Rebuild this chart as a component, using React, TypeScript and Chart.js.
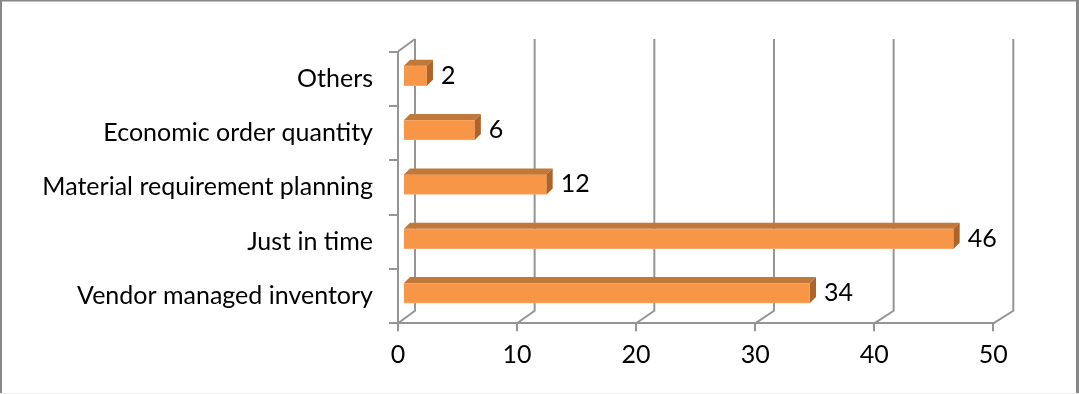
import React, { useEffect, useRef } from "react";
import { Chart, registerables } from "chart.js";
Chart.register(...registerables);

const categories = [
  "Others",
  "Economic order quantity",
  "Material requirement planning",
  "Just in time",
  "Vendor managed inventory",
];
const values = [2, 6, 12, 46, 34];
const xTicks = [0, 10, 20, 30, 40, 50];

const W = 1079;
const H = 394;
const FONT_FAMILY = "Lato, 'Open Sans', sans-serif";
const FONT_SIZE = 25;
const LINE = "#959595";
const DEPTH_Y = -12.5;
const depthX = (v: number) => 17 + v * 0.06;
const BAR_SHIFT_X = 5;
const BAR_SHIFT_Y = -3;
const BAR_SCALE = 1.0054;
const FACE_X = 6;
const FACE_Y = -6;
const LABEL_GAP = 8;

const threeD = {
  id: "threeD",
  beforeDraw(chart: any) {
    const ctx = chart.ctx;
    ctx.save();
    ctx.fillStyle = "#ffffff";
    ctx.fillRect(0, 0, W, H);
    ctx.fillStyle = "#878787";
    ctx.fillRect(0, 0, W, 1.5);
    ctx.fillRect(0, 0, 2, H);
    ctx.fillRect(W - 3, 0, 3, H);
    ctx.fillStyle = "#eeeeee";
    ctx.fillRect(0, H - 1, W, 1);
    ctx.restore();
  },
  beforeDatasetsDraw(chart: any) {
    const ctx = chart.ctx;
    const xs = chart.scales.x;
    const { top, bottom, left } = chart.chartArea;
    ctx.save();
    ctx.strokeStyle = LINE;
    ctx.lineWidth = 2;
    ctx.lineCap = "butt";
    ctx.beginPath();
    ctx.moveTo(left, top);
    ctx.lineTo(left + depthX(0), top + DEPTH_Y);
    for (const v of xTicks) {
      const fx = xs.getPixelForValue(v);
      const bx = fx + depthX(v);
      ctx.moveTo(bx, top + DEPTH_Y);
      ctx.lineTo(bx, bottom + DEPTH_Y);
      ctx.lineTo(fx, bottom);
    }
    ctx.stroke();
    ctx.restore();
    ctx.save();
    ctx.translate(left + BAR_SHIFT_X, BAR_SHIFT_Y);
    ctx.scale(BAR_SCALE, 1);
    ctx.translate(-left, 0);
  },
  afterDatasetsDraw(chart: any) {
    const ctx = chart.ctx;
    const left = chart.chartArea.left;
    const meta = chart.getDatasetMeta(0);
    const ends: { x: number; y: number }[] = [];
    meta.data.forEach((bar: any) => {
      const { x, y, base, height } = bar.getProps(["x", "y", "base", "height"], true);
      const t = y - height / 2;
      const b = y + height / 2;
      ctx.fillStyle = "#C27839";
      ctx.beginPath();
      ctx.moveTo(base, t);
      ctx.lineTo(x, t);
      ctx.lineTo(x + FACE_X, t + FACE_Y);
      ctx.lineTo(base + FACE_X, t + FACE_Y);
      ctx.closePath();
      ctx.fill();
      ctx.fillStyle = "#AB642C";
      ctx.beginPath();
      ctx.moveTo(x, t);
      ctx.lineTo(x + FACE_X, t + FACE_Y);
      ctx.lineTo(x + FACE_X, b + FACE_Y);
      ctx.lineTo(x, b);
      ctx.closePath();
      ctx.fill();
      ends.push({ x: left + BAR_SHIFT_X + (x + FACE_X - left) * BAR_SCALE, y: y + BAR_SHIFT_Y });
    });
    ctx.restore();
    ctx.save();
    ctx.fillStyle = "#000000";
    ctx.font = `${FONT_SIZE}px ${FONT_FAMILY}`;
    ctx.textAlign = "left";
    ctx.textBaseline = "middle";
    ends.forEach((e, i) => ctx.fillText(String(values[i]), e.x + LABEL_GAP, e.y));
    ctx.restore();
  },
};

export default function App() {
  const ref = useRef<HTMLCanvasElement | null>(null);
  useEffect(() => {
    if (!ref.current) return;
    const chart = new Chart(ref.current, {
      type: "bar",
      data: {
        labels: categories,
        datasets: [
          {
            data: values,
            backgroundColor: "#F79646",
            borderColor: "#F9A870",
            borderWidth: 1,
            barThickness: 20,
            clip: false,
          } as any,
        ],
      },
      options: {
        indexAxis: "y",
        animation: false,
        responsive: false,
        devicePixelRatio: 1,
        layout: { padding: { top: 51.5, right: 85.7, left: 0, bottom: 0 } },
        plugins: { legend: { display: false }, tooltip: { enabled: false } },
        scales: {
          x: {
            min: 0,
            max: 50,
            ticks: { stepSize: 10, color: "#000", font: { family: FONT_FAMILY, size: FONT_SIZE }, padding: 9 },
            grid: { drawOnChartArea: false, drawTicks: true, tickLength: 8, color: LINE, lineWidth: 2 },
            border: { display: true, color: LINE, width: 2 },
            afterFit: (s: any) => {
              s.height = H - 323.3;
            },
          },
          y: {
            ticks: { color: "#000", font: { family: FONT_FAMILY, size: FONT_SIZE }, padding: 16 },
            grid: { drawOnChartArea: false, drawTicks: true, tickLength: 9, color: LINE, lineWidth: 2 },
            border: { display: true, color: LINE, width: 2 },
            afterFit: (s: any) => {
              s.width = 398;
            },
          },
        },
      },
      plugins: [threeD],
    });
    return () => chart.destroy();
  }, []);
  return (
    <div style={{ position: "fixed", left: 0, top: 0, width: W, height: H }}>
      <canvas ref={ref} width={W} height={H} style={{ display: "block", width: W, height: H }} />
    </div>
  );
}
